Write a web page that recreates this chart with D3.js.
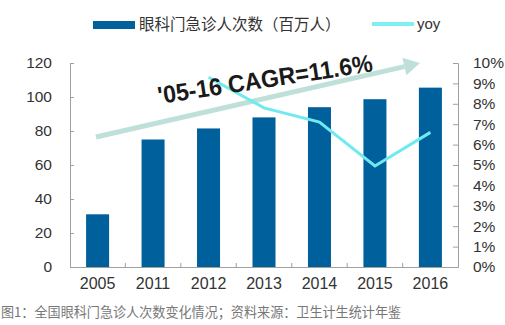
<!DOCTYPE html>
<html><head><meta charset="utf-8">
<script src="https://cdn.jsdelivr.net/npm/d3@7"></script>
<style>body{margin:0;background:#fff}svg{display:block}</style>
</head><body>
<svg id="c" width="505" height="325"></svg>
<script>
const categories = ["2005","2011","2012","2013","2014","2015","2016"];
const visits = [31, 75, 81.5, 88, 94, 98.7, 105.5];
const yoyYears = ["2012","2013","2014","2015","2016"];
const yoy = [0.093, 0.078, 0.071, 0.0495, 0.066];
const leftTicks = [0,20,40,60,80,100,120];
const rightTicks = [0,0.01,0.02,0.03,0.04,0.05,0.06,0.07,0.08,0.09,0.10];
const legendBar = "眼科门急诊人次数（百万人）";
const legendLine = "yoy";
const cagrText = "'05-16 CAGR=11.6%";
const caption = "图1：全国眼科门急诊人次数变化情况；资料来源：卫生计生统计年鉴";

const svg = d3.select("#c");
const L = 70, R = 458, T = 63, B = 267;
const font = "Arial, 'Liberation Sans', 'Noto Sans CJK SC', sans-serif";
const axisCol = "#a0a0a0", textCol = "#333";

const x = d3.scaleBand().domain(categories).range([L, R]).paddingInner(0.585).paddingOuter(0.29);
const y = d3.scaleLinear().domain([0,120]).range([B, T]);
const y2 = d3.scaleLinear().domain([0,0.10]).range([B, T]);

// bars
svg.append("g").selectAll("rect").data(categories).join("rect")
  .attr("x", d => x(d)).attr("width", x.bandwidth())
  .attr("y", (d,i) => y(visits[i])).attr("height", (d,i) => B - y(visits[i]))
  .attr("fill", "#00609c");

// left axis
const gl = svg.append("g").attr("transform", `translate(${L},0)`)
  .call(d3.axisLeft(y).tickValues(leftTicks).tickSizeInner(-4).tickSizeOuter(-4).tickPadding(18));
gl.selectAll("path,line").attr("stroke", axisCol);
gl.selectAll("text").attr("font-family", font).attr("font-size", 15.5).attr("fill", textCol);

// right axis
const gr = svg.append("g").attr("transform", `translate(${R},0)`)
  .call(d3.axisRight(y2).tickValues(rightTicks).tickFormat(d3.format(".0%")).tickSizeInner(-5).tickSizeOuter(-5).tickPadding(15));
gr.selectAll("path,line").attr("stroke", axisCol);
gr.selectAll("text").attr("font-family", font).attr("font-size", 15.5).attr("fill", textCol);

// bottom axis
const gb = svg.append("g").attr("transform", `translate(0,${B})`)
  .call(d3.axisBottom(x).tickSize(0).tickPadding(11));
gb.select("path").attr("stroke", axisCol);
gb.selectAll("text").attr("font-family", font).attr("font-size", 16).attr("fill", textCol);
const step = x.step();
svg.append("g").selectAll("line").data(categories.slice(1)).join("line")
  .attr("x1", d => x(d) - (step - x.bandwidth())/2).attr("x2", d => x(d) - (step - x.bandwidth())/2)
  .attr("y1", B).attr("y2", B - 4).attr("stroke", axisCol);

// CAGR arrow
const ax1 = 96, ay1 = 137, ax2 = 420, ay2 = 63;
const ang = Math.atan2(ay2 - ay1, ax2 - ax1);
const hl = 16, hw = 9;
const bx = ax2 - hl*Math.cos(ang), by = ay2 - hl*Math.sin(ang);
svg.append("line").attr("x1", ax1).attr("y1", ay1).attr("x2", bx).attr("y2", by)
  .attr("stroke", "#bfe0d8").attr("stroke-width", 5);
svg.append("path").attr("d", `M${ax2},${ay2}L${bx - hw*Math.sin(ang)},${by + hw*Math.cos(ang)}L${bx + hw*Math.sin(ang)},${by - hw*Math.cos(ang)}Z`)
  .attr("fill", "#bfe0d8");

// yoy line
const line = d3.line().x(d => x(d[0]) + x.bandwidth()/2).y(d => y2(d[1]));
svg.append("path").datum(yoyYears.map((c,i) => [c, yoy[i]]))
  .attr("d", line).attr("fill", "none").attr("stroke", "#6eeaf0").attr("stroke-width", 3);

// CAGR text
svg.append("text").attr("transform", "translate(159,104) rotate(-8.7)")
  .attr("font-family", font).attr("font-weight", "bold").attr("font-size", 24.5).attr("fill", "#1a1a1a")
  .attr("textLength", 217).attr("lengthAdjust", "spacingAndGlyphs")
  .text(cagrText);

// legend
svg.append("rect").attr("x", 93).attr("y", 21).attr("width", 42).attr("height", 8).attr("fill", "#00609c");
svg.append("text").attr("x", 139).attr("y", 30).attr("font-family", font).attr("font-size", 15.5).attr("fill", textCol).text(legendBar);
svg.append("line").attr("x1", 372).attr("x2", 414).attr("y1", 24).attr("y2", 24).attr("stroke", "#7ff0f2").attr("stroke-width", 4);
svg.append("text").attr("x", 417).attr("y", 29).attr("font-family", font).attr("font-size", 15).attr("fill", textCol).text(legendLine);

// caption
svg.append("text").attr("x", 1).attr("y", 317).attr("font-family", "'Noto Sans CJK SC', sans-serif").attr("font-size", 13.1).attr("fill", "#777").text(caption);
</script>
</body></html>
